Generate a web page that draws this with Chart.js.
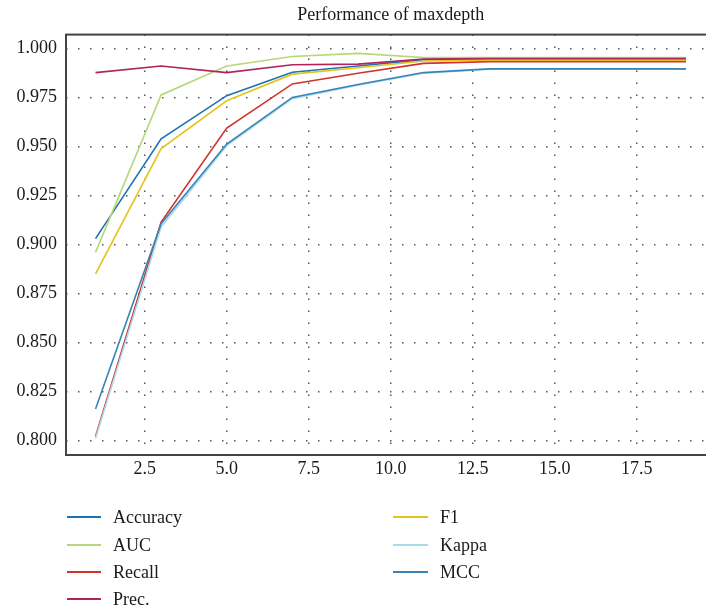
<!DOCTYPE html>
<html>
<head>
<meta charset="utf-8">
<script src="https://cdn.jsdelivr.net/npm/chart.js@4/dist/chart.umd.min.js"></script>
<style>
  html, body { margin: 0; padding: 0; background: #fff; overflow: hidden; width: 706px; height: 612px; }
  #wrap { position: absolute; left: 0; top: 0; width: 720px; height: 612px; }
</style>
</head>
<body>
<div id="wrap"><canvas id="c" width="720" height="612"></canvas></div>
<script>
// ---- data ----
const depths   = [1, 3, 5, 7, 9, 11, 13, 15, 17, 19];
const accuracy = [0.903, 0.954, 0.976, 0.988, 0.9912, 0.9944, 0.9946, 0.9946, 0.9946, 0.9946];
const auc      = [0.896, 0.9764, 0.9912, 0.9960, 0.9976, 0.9955, 0.9955, 0.9955, 0.9955, 0.9955];
const recall   = [0.802, 0.9115, 0.9595, 0.9820, 0.9875, 0.9925, 0.9934, 0.9934, 0.9934, 0.9934];
const prec     = [0.9878, 0.9912, 0.9878, 0.9918, 0.9921, 0.9947, 0.9950, 0.9950, 0.9950, 0.9950];
const f1       = [0.885, 0.949, 0.9734, 0.9870, 0.9903, 0.9937, 0.9941, 0.9941, 0.9941, 0.9941];
const kappa    = [0.801, 0.909, 0.9505, 0.9745, 0.9813, 0.9875, 0.9895, 0.9895, 0.9895, 0.9895];
const mcc      = [0.816, 0.9106, 0.9513, 0.9751, 0.9817, 0.9878, 0.9897, 0.9897, 0.9897, 0.9897];

const seriesNames  = ['Accuracy', 'AUC', 'Recall', 'Prec.', 'F1', 'Kappa', 'MCC'];
const seriesValues = [accuracy, auc, recall, prec, f1, kappa, mcc];
const seriesColors = ['#1f72b1', '#b8d67a', '#d1322c', '#b1235d', '#e4c41c', '#a9daec', '#3a84b5'];

const xTicks = [2.5, 5.0, 7.5, 10.0, 12.5, 15.0, 17.5];
const yTicks = [0.800, 0.825, 0.850, 0.875, 0.900, 0.925, 0.950, 0.975, 1.000];
const titleText = 'Performance of maxdepth';

const SERIF = '"Liberation Serif", "DejaVu Serif", serif';

const datasets = seriesNames.map((name, i) => ({
  label: name,
  data: depths.map((d, j) => ({ x: d, y: seriesValues[i][j] })),
  borderColor: seriesColors[i],
  backgroundColor: seriesColors[i],
  borderWidth: 1.6,
  pointRadius: 0,
  pointHoverRadius: 0,
  tension: 0,
  fill: false,
  order: seriesNames.length - 1 - i   // later series drawn on top
}));

const frameAndLegend = {
  id: 'frameAndLegend',
  afterDatasetsDraw(chart) {
    const { ctx, chartArea: a } = chart;
    ctx.save();
    ctx.strokeStyle = '#444';
    ctx.lineWidth = 2;
    ctx.strokeRect(a.left, a.top, a.right - a.left, a.bottom - a.top);
    ctx.restore();
  },
  afterDraw(chart) {
    const { ctx } = chart;
    ctx.save();
    ctx.font = '18px ' + SERIF;
    ctx.textBaseline = 'middle';
    ctx.fillStyle = '#1a1a1a';
    const rows = [517, 545, 572, 599];
    const cols = [{ l0: 67, l1: 101, t: 113 }, { l0: 393, l1: 428, t: 440 }];
    seriesNames.forEach((name, i) => {
      const c = cols[i < 4 ? 0 : 1];
      const y = rows[i < 4 ? i : i - 4];
      ctx.strokeStyle = seriesColors[i];
      ctx.lineWidth = 2;
      ctx.beginPath();
      ctx.moveTo(c.l0, y);
      ctx.lineTo(c.l1, y);
      ctx.stroke();
      ctx.fillText(name, c.t, y + 1);
    });
    ctx.restore();
  }
};

new Chart(document.getElementById('c'), {
  type: 'line',
  data: { datasets },
  options: {
    responsive: false,
    animation: false,
    devicePixelRatio: 1,
    layout: { padding: { left: 0, right: 4.5, top: 0, bottom: 127 } },
    plugins: {
      legend: { display: false },
      tooltip: { enabled: false },
      title: {
        display: true,
        text: titleText,
        fullSize: false,
        color: '#1a1a1a',
        font: { family: SERIF, size: 18, weight: 'normal' },
        padding: { top: 4, bottom: 9 }
      }
    },
    scales: {
      x: {
        type: 'linear',
        min: 0.1,
        max: 19.9,
        afterBuildTicks: s => { s.ticks = xTicks.map(v => ({ value: v })); },
        afterFit: s => { s.height = 30; },
        ticks: {
          color: '#1a1a1a',
          font: { family: SERIF, size: 18 },
          padding: 3,
          maxRotation: 0,
          callback: v => Number(v).toFixed(1)
        },
        grid: { color: '#555', lineWidth: 1.5, drawTicks: false },
        border: { display: false, dash: [1.5, 10.5] }
      },
      y: {
        type: 'linear',
        min: 0.7925,
        max: 1.0072,
        afterBuildTicks: s => { s.ticks = yTicks.map(v => ({ value: v })); },
        afterFit: s => { s.width = 66; },
        ticks: {
          color: '#1a1a1a',
          font: { family: SERIF, size: 18 },
          padding: 9,
          callback: v => Number(v).toFixed(3)
        },
        grid: { color: '#555', lineWidth: 1.5, drawTicks: false },
        border: { display: false, dash: [1.5, 10.5] }
      }
    }
  },
  plugins: [frameAndLegend]
});
</script>
</body>
</html>
